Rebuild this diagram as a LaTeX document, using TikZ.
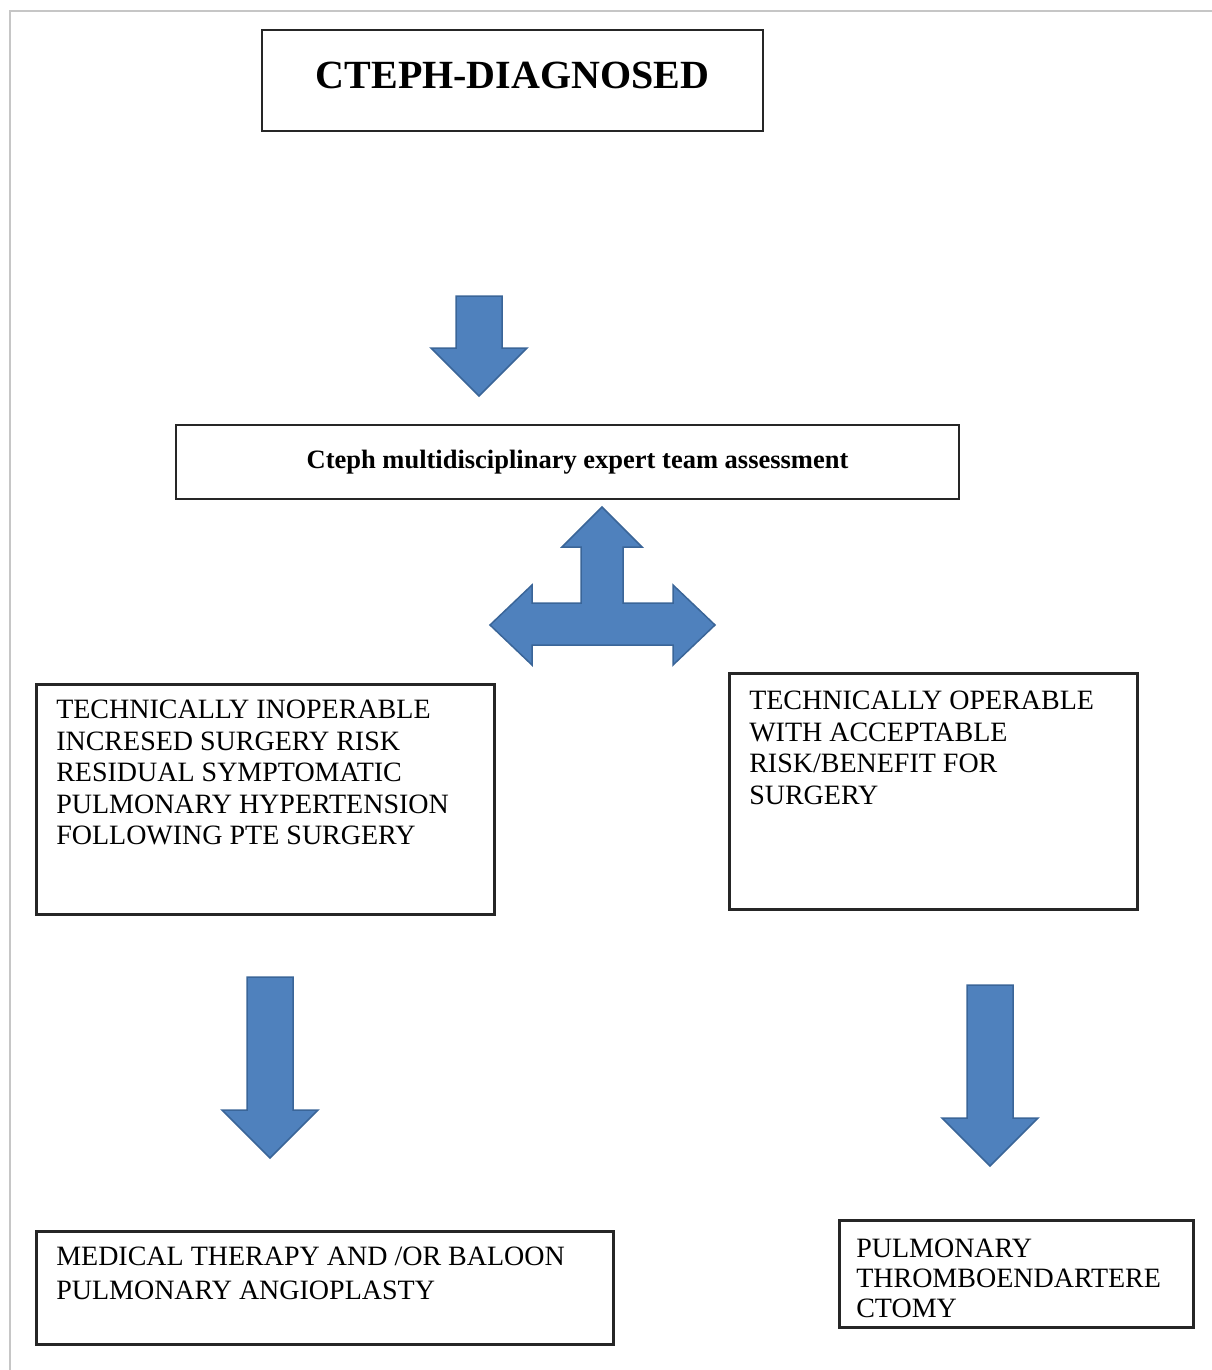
\documentclass[tikz,border=0pt]{standalone}
\usepackage{fontspec}
\setmainfont{Liberation Serif}
\usepackage{xcolor}
\usepackage{tikz}

\definecolor{arrowblue}{HTML}{4F81BD}
\definecolor{arrowedge}{HTML}{3A6598}

% text block that sits at the top left of its box
\newcommand{\boxtext}[3]{\parbox[t][#2][t]{#1}{\raggedright #3}}
% fat arrow pointing down: x, top, head base, tip
\newcommand{\blockdown}[4]{%
  \draw[arr] ({#1-23},#2) -- ({#1+23},#2) -- ({#1+23},#3) -- ({#1+48},#3)
    -- (#1,#4) -- ({#1-48},#3) -- ({#1-23},#3) -- cycle;}

\begin{document}
\begin{tikzpicture}[
  x=1pt, y=-1pt,
  box/.style={draw=black!85, line width=2.5pt, inner sep=0pt},
  textbox/.style={box, anchor=north west, inner xsep=20pt, inner ysep=16pt,
    font=\fontsize{28}{31.5}\selectfont},
  arr/.style={fill=arrowblue, draw=arrowedge, line width=1.5pt, line join=miter}
]
\useasboundingbox (0,0) rectangle (1212,1370);
\draw[gray!45, line width=2pt] (10,1370) -- (10,11) -- (1212,11);

\node[box, minimum width=501pt, minimum height=101pt, text depth=10pt,
  font=\bfseries\fontsize{40}{48}\selectfont] (diag) at (512.5,80.5) {CTEPH-DIAGNOSED};
\node[box, minimum width=783pt, minimum height=74pt, text depth=6pt,
  font=\bfseries\fontsize{26.5}{32}\selectfont] (team) at (567.5,462)
  {\hspace*{20pt}Cteph multidisciplinary expert team assessment};

\node[textbox] (inop) at (35,683) {\boxtext{418pt}{198pt}{TECHNICALLY INOPERABLE\\
  INCRESED SURGERY RISK\\ RESIDUAL SYMPTOMATIC\\ PULMONARY HYPERTENSION\\
  FOLLOWING PTE SURGERY}};
\node[textbox, inner ysep=18pt] (oper) at (728,672) {\boxtext{368pt}{200pt}{TECHNICALLY OPERABLE\\
  WITH ACCEPTABLE\\ RISK/BENEFIT FOR\\ SURGERY}};
\node[textbox, font=\fontsize{28}{34}\selectfont] (medic) at (35,1230)
  {\boxtext{537pt}{81pt}{MEDICAL THERAPY AND /OR BALOON\\ PULMONARY ANGIOPLASTY}};
\node[textbox, inner xsep=17pt, inner ysep=19pt, font=\fontsize{28}{30}\selectfont] (pte) at (838,1219)
  {\boxtext{320pt}{69pt}{PULMONARY\\ THROMBOENDARTERE\\ CTOMY}};

\blockdown{479}{296}{348}{396}
\draw[arr] (602,507) -- (642,547) -- (623,547) -- (623,603) -- (673,603) -- (673,585)
  -- (715,625) -- (673,665) -- (673,645) -- (532,645) -- (532,665) -- (490,625)
  -- (532,585) -- (532,603) -- (581,603) -- (581,547) -- (562,547) -- cycle;
\blockdown{270}{977}{1110}{1158}
\blockdown{990}{985}{1118}{1166}
\end{tikzpicture}
\end{document}
